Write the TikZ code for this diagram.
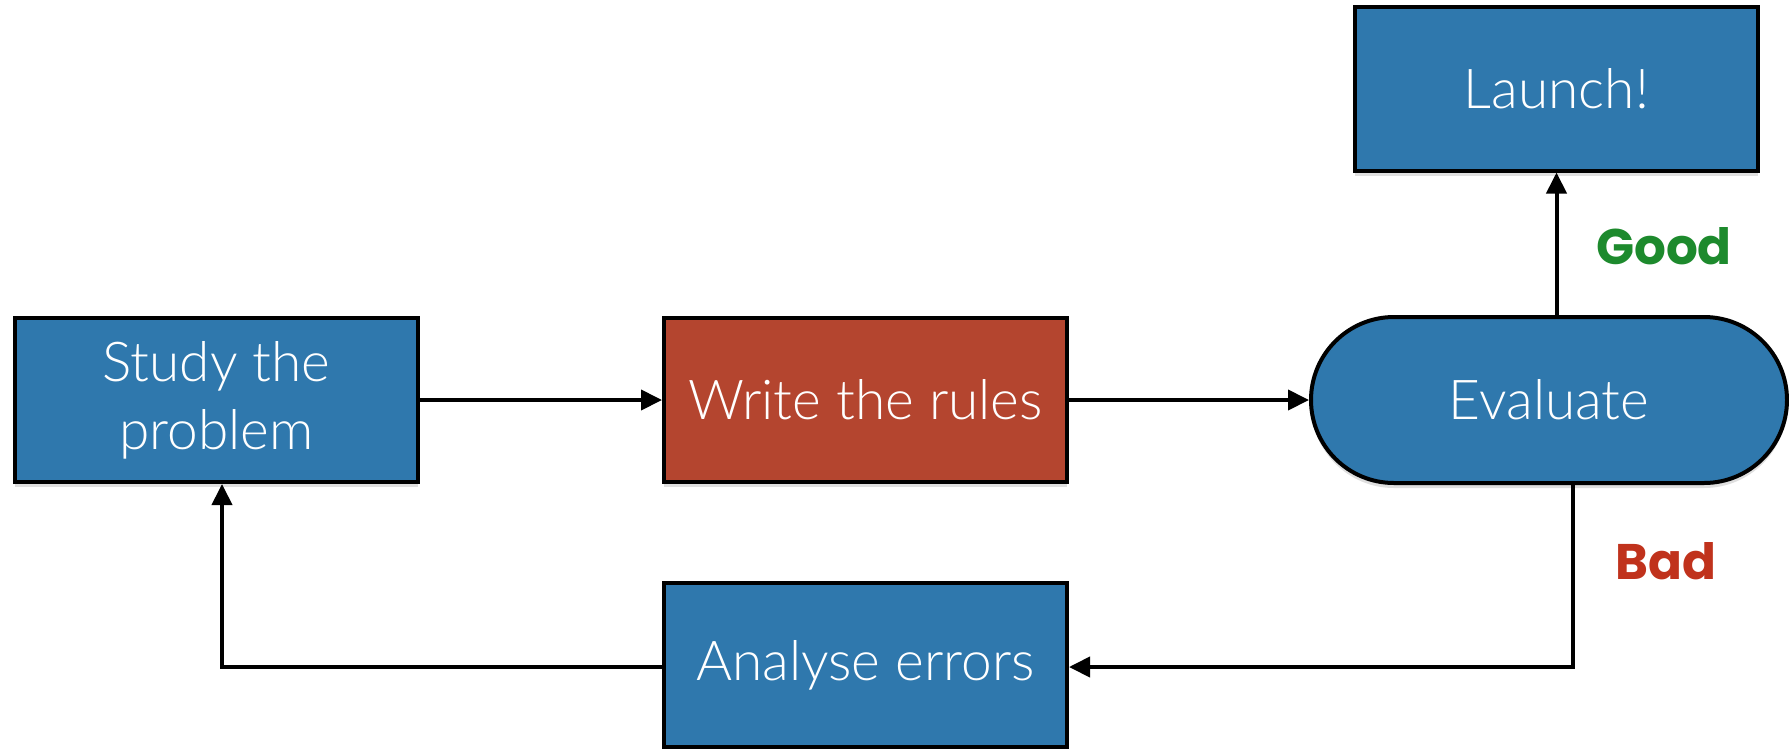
\documentclass[tikz,border=0pt]{standalone}
\usepackage{fontspec}
\setmainfont{Lato Light}
\newfontfamily\notefont{Poppins}
\usetikzlibrary{arrows.meta,shapes.misc,shadows}

\definecolor{stepblue}{HTML}{2F78AD}
\definecolor{stepred}{HTML}{B4452F}
\definecolor{goodgreen}{HTML}{1D8A2D}
\definecolor{badred}{HTML}{C0321C}

\tikzset{
  stepbox/.style={rectangle, draw=black, line width=4pt, fill=stepblue,
    text=white, font=\fontsize{55}{68}\selectfont, align=center,
    inner sep=0pt, minimum width=403pt, minimum height=164pt,
    drop shadow={shadow xshift=0pt, shadow yshift=-5pt, opacity=0.25}},
  redbox/.style={stepbox, fill=stepred},
  pillbox/.style={stepbox, rounded rectangle, minimum width=476pt, minimum height=166pt},
  flow/.style={line width=4pt, -{Triangle[length=21pt,width=20pt]}},
  verdict/.style={font=\notefont\bfseries\fontsize{50}{60}\selectfont}
}

\begin{document}
\begin{tikzpicture}[x=1pt,y=-1pt]
\useasboundingbox[fill=white] (0,0) rectangle (1789,748);

% process steps
\node[stepbox] (study) at (216.5,400) {Study the\\problem};
\node[redbox] (write) at (865.5,400) {Write the rules};
\node[pillbox] (eval) at (1549,400) {Evaluate};
\node[stepbox] (launch) at (1556.5,88.5) {Launch!};
\node[stepbox] (analyse) at (865.5,665) {Analyse errors};

% bend points of the feedback loop
\coordinate (badturn) at (1573,667);
\coordinate (backturn) at (222,667);

% connectors
\draw[flow] (study.east) -- (write.west);
\draw[flow] (write.east) -- (eval.west);
\draw[flow] (launch.south |- eval.north) -- (launch.south);
\draw[flow] (eval.south -| badturn) -- (badturn) -- (analyse.east |- badturn);
\draw[flow] (analyse.west |- backturn) -- (backturn) -- (study.south -| backturn);

% outcome labels
\node[verdict, text=goodgreen] (good) at (1664,246) {Good};
\node[verdict, text=badred] (bad) at (1666,561) {Bad};
\end{tikzpicture}
\end{document}
